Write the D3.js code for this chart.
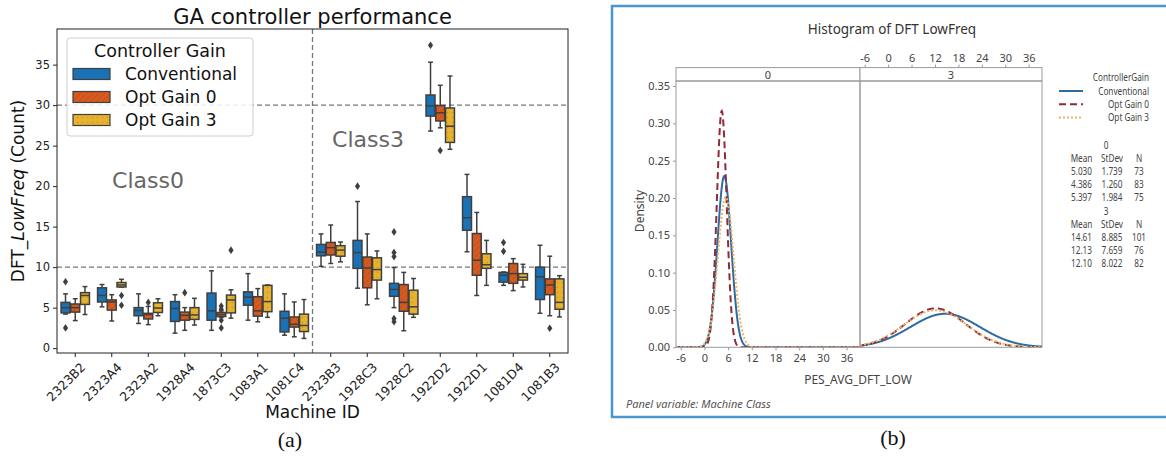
<!DOCTYPE html>
<html lang="en">
<head>
<meta charset="utf-8">
<title>GA controller performance</title>
<script src="https://d3js.org/d3.v7.min.js"></script>
<style>
  body { margin: 0; background: #fff; }
  svg { display: block; }
</style>
</head>
<body>
<div id="canvas"></div>
<script>
// ---------- panel (a): box stats per machine [lowWhisker, q1, median, q3, highWhisker]
const machines = ["2323B2","2323A4","2323A2","1928A4","1873C3","1083A1","1081C4",
                  "2323B3","1928C3","1928C2","1922D2","1922D1","1081D4","1081B3"];
const gains = ["Conventional", "Opt Gain 0", "Opt Gain 3"];
const conventional = [
  [4.2, 4.35, 5.0, 5.65, 6.7], [5.1, 5.7, 6.5, 7.45, 7.85], [3.05, 4.0, 4.65, 5.0, 6.7],
  [1.85, 3.3, 4.9, 5.75, 6.6], [2.2, 3.45, 4.6, 6.8, 9.55], [3.45, 5.3, 6.3, 6.95, 9.2],
  [1.6, 2.0, 3.7, 4.55, 6.7], [10.1, 11.4, 11.85, 12.8, 14.1], [7.4, 9.85, 11.8, 13.3, 18.1],
  [5.0, 6.4, 7.25, 8.0, 9.95], [26.8, 28.65, 29.9, 31.25, 35.3], [11.9, 14.55, 16.1, 18.7, 21.45],
  [7.75, 8.15, 9.0, 9.35, 9.4], [4.3, 6.0, 8.8, 10.0, 12.7]
];
const optGain0 = [
  [3.4, 4.45, 5.0, 5.45, 6.1], [3.35, 4.7, 5.7, 5.95, 6.6], [2.9, 3.6, 4.15, 4.3, 5.15],
  [2.2, 3.45, 4.05, 4.45, 5.0], [3.8, 3.9, 4.15, 4.4, 4.6], [3.25, 3.95, 4.6, 6.35, 7.35],
  [1.4, 2.6, 2.95, 3.85, 5.7], [10.45, 11.5, 12.4, 13.05, 15.2], [5.35, 7.45, 9.9, 11.25, 14.1],
  [2.15, 4.55, 5.65, 7.85, 9.35], [27.2, 28.05, 29.05, 29.95, 32.45], [6.5, 9.0, 10.85, 14.15, 16.75],
  [7.1, 8.0, 9.2, 10.45, 11.05], [4.0, 6.6, 7.8, 8.55, 11.35]
];
const optGain3 = [
  [4.15, 5.4, 6.5, 6.85, 7.6], [7.55, 7.55, 7.8, 8.1, 8.5], [4.0, 4.4, 4.95, 5.6, 6.1],
  [2.85, 3.55, 4.1, 5.0, 6.15], [3.7, 4.35, 5.95, 6.55, 7.2], [3.8, 4.5, 5.75, 7.75, 7.8],
  [1.2, 2.05, 2.8, 4.2, 6.0], [10.65, 11.35, 12.1, 12.65, 13.1], [6.1, 8.4, 9.7, 11.15, 12.0],
  [3.8, 4.2, 5.1, 7.15, 8.6], [24.55, 25.4, 27.4, 29.65, 33.6], [7.75, 9.85, 10.3, 11.65, 13.3],
  [7.55, 8.4, 8.75, 9.2, 10.35], [3.85, 4.8, 5.65, 8.55, 8.95]
];
const outliersConv = [[8.2, 2.5], [], [], [], [], [], [], [], [20.0], [14.35, 11.8, 11.3, 3.65, 3.25], [37.4], [], [13.05, 11.95], []];
const outliersOpt0 = [[], [], [5.65], [6.85], [5.2, 4.8, 3.45, 2.5], [], [], [], [], [], [24.4], [], [], [2.45]];
const outliersOpt3 = [[], [6.5, 5.3], [], [], [12.1], [], [], [], [], [], [], [], [], []];
const yTicksA = [0, 5, 10, 15, 20, 25, 30, 35];
const refLines = [10, 30];

// ---------- panel (b): fitted normal summary per machine class
const meansClass0 = [5.030, 4.386, 5.397];
const sdClass0 = [1.739, 1.260, 1.984];
const nClass0 = [73, 83, 75];
const meansClass3 = [14.61, 12.13, 12.10];
const sdClass3 = [8.885, 7.659, 8.022];
const nClass3 = [101, 76, 82];
const xTicksB = [-6, 0, 6, 12, 18, 24, 30, 36];
const densityTicks = [0, 0.05, 0.10, 0.15, 0.20, 0.25, 0.30, 0.35];

const W = 1166, H = 459;
const svg = d3.select("#canvas").append("svg").attr("width", W).attr("height", H);

// ================= panel (a) =================
const fillA = ["#1a72b6", "#d6591f", "#e8b22e"];
const edge = "#3f3f3f";
const x = d3.scaleBand().domain(machines).range([57, 568]);
const y = d3.scaleLinear().domain([-0.6, 39.4]).range([353, 29]);
const hue = d3.scaleBand().domain(gains).range([-0.4 * x.bandwidth(), 0.4 * x.bandwidth()]);

const defs = svg.append("defs");
const hatch = defs.append("pattern").attr("id", "hatchO").attr("patternUnits", "userSpaceOnUse")
  .attr("width", 6).attr("height", 6);
hatch.append("rect").attr("width", 6).attr("height", 6).attr("fill", fillA[1]);
hatch.append("path").attr("d", "M0,6L6,0M-1,1L1,-1M5,7L7,5").attr("stroke", "#000").attr("stroke-opacity", 0.12).attr("stroke-width", 0.8);
const dots = defs.append("pattern").attr("id", "dotsY").attr("patternUnits", "userSpaceOnUse")
  .attr("width", 5).attr("height", 5);
dots.append("rect").attr("width", 5).attr("height", 5).attr("fill", fillA[2]);
dots.append("circle").attr("cx", 2.5).attr("cy", 2.5).attr("r", 0.8).attr("fill", "#000").attr("fill-opacity", 0.15);
const fills = ["#1a72b6", "url(#hatchO)", "url(#dotsY)"];

const gA = svg.append("g").attr("font-family", "DejaVu Sans, sans-serif");

// reference lines
gA.selectAll("line.ref").data(refLines).join("line")
  .attr("x1", 57).attr("x2", 568).attr("y1", d => y(d)).attr("y2", d => y(d))
  .attr("stroke", "#777").attr("stroke-width", 1.3).attr("stroke-dasharray", "5,3");
const splitX = x("2323B3");
gA.append("line").attr("x1", splitX).attr("x2", splitX).attr("y1", 29).attr("y2", 353)
  .attr("stroke", "#777").attr("stroke-width", 1.3).attr("stroke-dasharray", "5,3");

const series = [conventional, optGain0, optGain3];
const outs = [outliersConv, outliersOpt0, outliersOpt3];
const bw = hue.bandwidth();
series.forEach((s, k) => {
  const g = gA.append("g");
  s.forEach((st, i) => {
    const cx = x(machines[i]) + x.bandwidth() / 2 + hue(gains[k]) + bw / 2;
    const [lo, q1, med, q3, hi] = st;
    const cap = bw * 0.25;
    g.append("line").attr("x1", cx).attr("x2", cx).attr("y1", y(hi)).attr("y2", y(q3)).attr("stroke", edge).attr("stroke-width", 1.5);
    g.append("line").attr("x1", cx).attr("x2", cx).attr("y1", y(q1)).attr("y2", y(lo)).attr("stroke", edge).attr("stroke-width", 1.5);
    g.append("line").attr("x1", cx - cap).attr("x2", cx + cap).attr("y1", y(hi)).attr("y2", y(hi)).attr("stroke", edge).attr("stroke-width", 1.5);
    g.append("line").attr("x1", cx - cap).attr("x2", cx + cap).attr("y1", y(lo)).attr("y2", y(lo)).attr("stroke", edge).attr("stroke-width", 1.5);
    g.append("rect").attr("x", cx - bw / 2 + 0.4).attr("width", bw - 0.8)
      .attr("y", y(q3)).attr("height", Math.max(1, y(q1) - y(q3)))
      .attr("fill", fills[k]).attr("stroke", edge).attr("stroke-width", 1.5);
    g.append("line").attr("x1", cx - bw / 2 + 0.4).attr("x2", cx + bw / 2 - 0.4).attr("y1", y(med)).attr("y2", y(med)).attr("stroke", edge).attr("stroke-width", 1.5);
    g.selectAll(null).data(outs[k][i]).join("path")
      .attr("transform", v => `translate(${cx},${y(v)})`)
      .attr("d", "M0,-3.8L2.6,0L0,3.8L-2.6,0Z").attr("fill", edge);
  });
});

// axes frame
gA.append("rect").attr("x", 57).attr("y", 29).attr("width", 511).attr("height", 324)
  .attr("fill", "none").attr("stroke", "#222").attr("stroke-width", 1);

const yAxis = gA.append("g").attr("transform", "translate(57,0)")
  .call(d3.axisLeft(y).tickValues(yTicksA).tickSize(4).tickPadding(3));
yAxis.select(".domain").remove();
yAxis.selectAll("text").attr("font-size", 11.5).attr("font-family", "DejaVu Sans, sans-serif").attr("fill", "#222");
yAxis.selectAll("line").attr("stroke", "#222");

const xAxis = gA.append("g").attr("transform", "translate(0,353)")
  .call(d3.axisBottom(x).tickSize(4).tickPadding(2));
xAxis.select(".domain").remove();
xAxis.selectAll("line").attr("stroke", "#222");
xAxis.selectAll("text").attr("font-size", 12.5).attr("font-family", "DejaVu Sans, sans-serif").attr("fill", "#222")
  .attr("text-anchor", "end").attr("dy", null).attr("y", 0)
  .attr("transform", "translate(11,15) rotate(-45)");

gA.append("text").attr("x", 312.5).attr("y", 24).attr("text-anchor", "middle")
  .attr("font-size", 21).attr("fill", "#111").text("GA controller performance");
gA.append("text").attr("x", 312.5).attr("y", 418).attr("text-anchor", "middle")
  .attr("font-size", 17).attr("fill", "#111").text("Machine ID");
const yl = gA.append("text").attr("transform", "translate(24,191) rotate(-90)").attr("text-anchor", "middle")
  .attr("font-size", 17).attr("fill", "#111");
yl.append("tspan").text("DFT_");
yl.append("tspan").attr("font-style", "italic").text("LowFreq");
yl.append("tspan").text(" (Count)");

gA.append("text").attr("x", 148).attr("y", 188).attr("text-anchor", "middle")
  .attr("font-size", 22).attr("fill", "#666").text("Class0");
gA.append("text").attr("x", 368).attr("y", 147).attr("text-anchor", "middle")
  .attr("font-size", 22).attr("fill", "#666").text("Class3");

// legend
const lg = gA.append("g");
lg.append("rect").attr("x", 67).attr("y", 38).attr("width", 186).attr("height", 98).attr("rx", 3)
  .attr("fill", "#fff").attr("fill-opacity", 0.85).attr("stroke", "#d0d0d0");
lg.append("text").attr("x", 160).attr("y", 57).attr("text-anchor", "middle")
  .attr("font-size", 17.5).attr("fill", "#111").text("Controller Gain");
gains.forEach((gname, k) => {
  const cy = 74 + k * 23;
  lg.append("rect").attr("x", 73).attr("y", cy - 5.5).attr("width", 37).attr("height", 11)
    .attr("fill", fills[k]).attr("stroke", edge).attr("stroke-width", 1.2);
  lg.append("text").attr("x", 125).attr("y", cy + 6).attr("font-size", 17).attr("fill", "#111").text(gname);
});

svg.append("text").attr("x", 290).attr("y", 447).attr("text-anchor", "middle")
  .attr("font-family", "Liberation Serif, serif").attr("font-size", 22).attr("fill", "#111").text("(a)");

// ================= panel (b) =================
const gB = svg.append("g").attr("font-family", "Noto Sans, Open Sans, sans-serif").attr("fill", "#444");
gB.append("rect").attr("x", 612).attr("y", 6).attr("width", 570).attr("height", 411)
  .attr("fill", "#fff").attr("stroke", "#4a97cf").attr("stroke-width", 2.5);

gB.append("text").attr("x", 892).attr("y", 34).attr("text-anchor", "middle")
  .attr("font-size", 13.5).attr("fill", "#333").text("Histogram of DFT LowFreq");

const panels = [
  { label: "0", range: [676, 860], mean: meansClass0, sd: sdClass0, n: nClass0 },
  { label: "3", range: [860, 1042], mean: meansClass3, sd: sdClass3, n: nClass3 }
];
const yB = d3.scaleLinear().domain([0, 0.35]).range([347.3, 86]);
const stripTop = 67.6, stripBot = 81;
const curveStyle = [
  { stroke: "#2f6b9f", dash: null },
  { stroke: "#8e2b3b", dash: "7,4" },
  { stroke: "#e9b567", dash: "2,2" }
];

panels.forEach((p, pi) => {
  const xs = d3.scaleLinear().domain([-7.2, 39.4]).range(p.range);
  const clipId = "clip" + pi;
  defs.append("clipPath").attr("id", clipId).append("rect")
    .attr("x", p.range[0]).attr("y", stripBot).attr("width", p.range[1] - p.range[0]).attr("height", 347.3 - stripBot);
  // fitted normal curve for each gain
  const xsamp = d3.range(-7.2, 39.5, 0.1);
  const line = d3.line().x(d => xs(d[0])).y(d => yB(d[1]));
  [0, 1, 2].forEach(k => {
    const m = p.mean[k], s = p.sd[k];
    const pts = xsamp.map(v => [v, Math.exp(-0.5 * ((v - m) / s) ** 2) / (s * Math.sqrt(2 * Math.PI))]);
    gB.append("path").attr("clip-path", `url(#${clipId})`).attr("d", line(pts))
      .attr("fill", "none").attr("stroke", curveStyle[k].stroke).attr("stroke-width", 2)
      .attr("stroke-dasharray", curveStyle[k].dash);
  });
  // strip header
  gB.append("rect").attr("x", p.range[0]).attr("y", stripTop).attr("width", p.range[1] - p.range[0])
    .attr("height", stripBot - stripTop).attr("fill", "#fff").attr("stroke", "#9a9a9a").attr("stroke-width", 1);
  gB.append("text").attr("x", (p.range[0] + p.range[1]) / 2).attr("y", 78.5).attr("text-anchor", "middle")
    .attr("font-size", 11).text(p.label);
  // panel frame
  gB.append("rect").attr("x", p.range[0]).attr("y", stripBot).attr("width", p.range[1] - p.range[0])
    .attr("height", 347.3 - stripBot).attr("fill", "none").attr("stroke", "#9a9a9a").attr("stroke-width", 1);
  // x axis: bottom for class 0, top for class 3
  const ax = pi === 0
    ? gB.append("g").attr("transform", "translate(0,347.3)").call(d3.axisBottom(xs).tickValues(xTicksB).tickSize(3).tickPadding(4))
    : gB.append("g").attr("transform", `translate(0,${stripTop})`).call(d3.axisTop(xs).tickValues(xTicksB).tickSize(3).tickPadding(3));
  ax.select(".domain").remove();
  ax.selectAll("line").attr("stroke", "#9a9a9a");
  ax.selectAll("text").attr("font-size", 11).attr("font-family", "Noto Sans, sans-serif").attr("fill", "#444")
    .text(d => d < 0 ? "-" + Math.abs(d) : d);
});

const yAxB = gB.append("g").attr("transform", "translate(676,0)")
  .call(d3.axisLeft(yB).tickValues(densityTicks).tickFormat(d3.format(".2f")).tickSize(3).tickPadding(3));
yAxB.select(".domain").remove();
yAxB.selectAll("line").attr("stroke", "#9a9a9a");
yAxB.selectAll("text").attr("font-size", 11).attr("font-family", "Noto Sans, sans-serif").attr("fill", "#444");

gB.append("text").attr("transform", "translate(644,211) rotate(-90)").attr("text-anchor", "middle")
  .attr("font-size", 12).text("Density");
gB.append("text").attr("x", 858).attr("y", 384).attr("text-anchor", "middle")
  .attr("font-size", 12).text("PES_AVG_DFT_LOW");
gB.append("text").attr("x", 626).attr("y", 408).attr("font-size", 11).attr("font-style", "italic")
  .attr("fill", "#555").text("Panel variable: Machine Class");

// legend (b), horizontally condensed text
function ctext(xp, yp, str, anchor) {
  return gB.append("text").attr("transform", `translate(${xp},${yp}) scale(0.82,1)`)
    .attr("text-anchor", anchor).attr("font-size", 10).text(str);
}
ctext(1149, 81, "ControllerGain", "end");
gains.forEach((gname, k) => {
  const ly = 91 + k * 13.3;
  gB.append("line").attr("x1", 1059).attr("x2", 1083).attr("y1", ly).attr("y2", ly)
    .attr("stroke", curveStyle[k].stroke).attr("stroke-width", 2).attr("stroke-dasharray", curveStyle[k].dash);
  ctext(1149, ly + 3.5, gname, "end");
});

const cols = [1081.5, 1112, 1139];
panels.forEach((p, pi) => {
  const top = pi === 0 ? 148.5 : 214.5;
  ctext(1106, top, p.label, "middle");
  ["Mean", "StDev", "N"].forEach((h, j) => ctext(cols[j], top + 13, h, "middle"));
  [0, 1, 2].forEach(k => {
    const ry = top + 26 + k * 13.3;
    const meanStr = pi === 0 ? d3.format(".3f")(p.mean[k]) : d3.format(".2f")(p.mean[k]);
    ctext(cols[0], ry, meanStr, "middle");
    ctext(cols[1], ry, d3.format(".3f")(p.sd[k]), "middle");
    ctext(cols[2], ry, String(p.n[k]), "middle");
  });
});

svg.append("text").attr("x", 893).attr("y", 445).attr("text-anchor", "middle")
  .attr("font-family", "Liberation Serif, serif").attr("font-size", 22).attr("fill", "#111").text("(b)");
</script>
</body>
</html>
